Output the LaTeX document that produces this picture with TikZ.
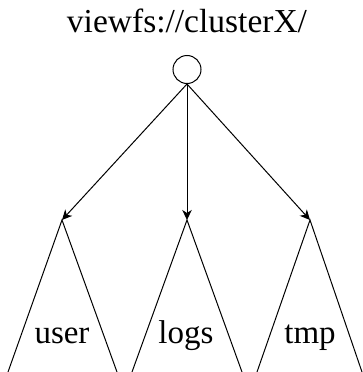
\documentclass[tikz,border=0pt]{standalone}
\usepackage{fontspec}
\setmainfont{Liberation Serif}
\usetikzlibrary{arrows.meta}
\begin{document}
\begin{tikzpicture}[x=1pt,y=-1pt,
  edge/.style={draw=black,line width=1pt,-{Stealth[length=10pt,width=9.5pt,inset=3pt]}},
  side/.style={draw=black,line width=1pt},
  lbl/.style={font=\fontsize{33}{38}\selectfont,anchor=base,inner sep=0pt},
  rootnode/.style={circle,draw=black,line width=1pt,minimum size=28pt,inner sep=0pt}]
\useasboundingbox (0,0) rectangle (362,372);
\node[lbl,font=\fontsize{33.5}{38}\selectfont] (title) at (187,32) {viewfs://clusterX/};
\node[rootnode] (root) at (187,69.5) {};
\coordinate (ua) at (62,220);
\coordinate (la) at (187,220);
\coordinate (ta) at (310,220);
\coordinate (ul) at (8,372);  \coordinate (ur) at (117,372);
\coordinate (ll) at (132,372); \coordinate (lr) at (242,372);
\coordinate (tl) at (257,372); \coordinate (tr) at (362,372);
\draw[side] (ul) -- (ua) -- (ur);
\draw[side] (ll) -- (la) -- (lr);
\draw[side] (tl) -- (ta) -- (tr);
\draw[edge] (root.south) -- (ua);
\draw[edge] (root.south) -- (la);
\draw[edge] (root.south) -- (ta);
\node[lbl] (user) at (62,343) {user};
\node[lbl] (logs) at (186,343) {logs};
\node[lbl] (tmp) at (310,343) {tmp};
\end{tikzpicture}
\end{document}
